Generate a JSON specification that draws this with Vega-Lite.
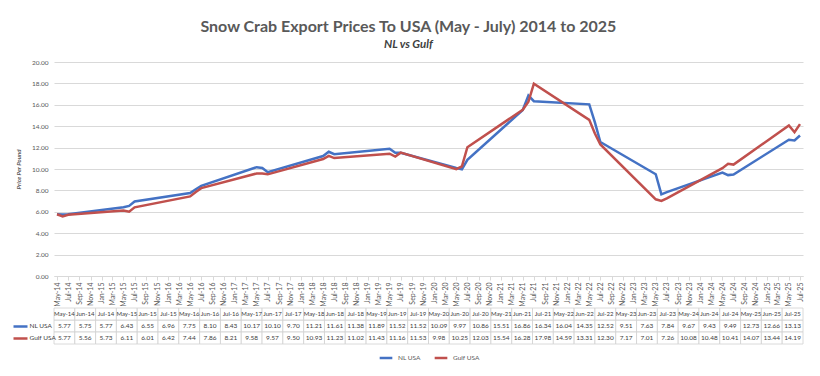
{
  "$schema": "https://vega.github.io/schema/vega-lite/v6.json",
  "padding": {"left": 11, "top": 18, "right": 17, "bottom": 4},
  "background": "white",
  "title": {
    "text": "Snow Crab Export Prices To USA (May - July) 2014 to 2025",
    "subtitle": "NL vs Gulf",
    "anchor": "middle",
    "font": "Lato",
    "fontSize": 16,
    "fontWeight": "bold",
    "color": "#595959",
    "subtitleFont": "Lato",
    "subtitleFontSize": 11.5,
    "subtitleFontStyle": "italic",
    "subtitleFontWeight": "bold",
    "subtitleColor": "#404040",
    "subtitlePadding": 4,
    "offset": 9
  },
  "datasets": {
    "d": [
      {"month": "2014-05-01", "label": "May-14", "NL USA": 5.77, "Gulf USA": 5.77},
      {"month": "2014-06-01", "label": "Jun-14", "NL USA": 5.75, "Gulf USA": 5.56},
      {"month": "2014-07-01", "label": "Jul-14", "NL USA": 5.77, "Gulf USA": 5.73},
      {"month": "2015-05-01", "label": "May-15", "NL USA": 6.43, "Gulf USA": 6.11},
      {"month": "2015-06-01", "label": "Jun-15", "NL USA": 6.55, "Gulf USA": 6.01},
      {"month": "2015-07-01", "label": "Jul-15", "NL USA": 6.96, "Gulf USA": 6.42},
      {"month": "2016-05-01", "label": "May-16", "NL USA": 7.75, "Gulf USA": 7.44},
      {"month": "2016-06-01", "label": "Jun-16", "NL USA": 8.10, "Gulf USA": 7.86},
      {"month": "2016-07-01", "label": "Jul-16", "NL USA": 8.43, "Gulf USA": 8.21},
      {"month": "2017-05-01", "label": "May-17", "NL USA": 10.17, "Gulf USA": 9.58},
      {"month": "2017-06-01", "label": "Jun-17", "NL USA": 10.10, "Gulf USA": 9.57},
      {"month": "2017-07-01", "label": "Jul-17", "NL USA": 9.70, "Gulf USA": 9.50},
      {"month": "2018-05-01", "label": "May-18", "NL USA": 11.21, "Gulf USA": 10.93},
      {"month": "2018-06-01", "label": "Jun-18", "NL USA": 11.61, "Gulf USA": 11.23},
      {"month": "2018-07-01", "label": "Jul-18", "NL USA": 11.38, "Gulf USA": 11.02},
      {"month": "2019-05-01", "label": "May-19", "NL USA": 11.89, "Gulf USA": 11.43},
      {"month": "2019-06-01", "label": "Jun-19", "NL USA": 11.52, "Gulf USA": 11.16},
      {"month": "2019-07-01", "label": "Jul-19", "NL USA": 11.52, "Gulf USA": 11.53},
      {"month": "2020-05-01", "label": "May-20", "NL USA": 10.09, "Gulf USA": 9.98},
      {"month": "2020-06-01", "label": "Jun-20", "NL USA": 9.97, "Gulf USA": 10.25},
      {"month": "2020-07-01", "label": "Jul-20", "NL USA": 10.86, "Gulf USA": 12.03},
      {"month": "2021-05-01", "label": "May-21", "NL USA": 15.51, "Gulf USA": 15.54},
      {"month": "2021-06-01", "label": "Jun-21", "NL USA": 16.86, "Gulf USA": 16.28},
      {"month": "2021-07-01", "label": "Jul-21", "NL USA": 16.34, "Gulf USA": 17.98},
      {"month": "2022-05-01", "label": "May-22", "NL USA": 16.04, "Gulf USA": 14.59},
      {"month": "2022-06-01", "label": "Jun-22", "NL USA": 14.35, "Gulf USA": 13.31},
      {"month": "2022-07-01", "label": "Jul-22", "NL USA": 12.52, "Gulf USA": 12.30},
      {"month": "2023-05-01", "label": "May-23", "NL USA": 9.51, "Gulf USA": 7.17},
      {"month": "2023-06-01", "label": "Jun-23", "NL USA": 7.63, "Gulf USA": 7.01},
      {"month": "2023-07-01", "label": "Jul-23", "NL USA": 7.84, "Gulf USA": 7.26},
      {"month": "2024-05-01", "label": "May-24", "NL USA": 9.67, "Gulf USA": 10.08},
      {"month": "2024-06-01", "label": "Jun-24", "NL USA": 9.43, "Gulf USA": 10.48},
      {"month": "2024-07-01", "label": "Jul-24", "NL USA": 9.49, "Gulf USA": 10.41},
      {"month": "2025-05-01", "label": "May-25", "NL USA": 12.73, "Gulf USA": 14.07},
      {"month": "2025-06-01", "label": "Jun-25", "NL USA": 12.66, "Gulf USA": 13.44},
      {"month": "2025-07-01", "label": "Jul-25", "NL USA": 13.13, "Gulf USA": 14.19}
    ]
  },
  "data": {"name": "d"},
  "spacing": 0,
  "vconcat": [
    {
      "width": 749,
      "height": 214,
      "transform": [{"fold": ["NL USA", "Gulf USA"], "as": ["series", "price"]}],
      "mark": {"type": "line", "strokeWidth": 2.5},
      "encoding": {
        "x": {
          "field": "month",
          "type": "temporal",
          "scale": {
            "type": "utc",
            "domain": [{"year": 2014, "month": 5, "date": 1, "utc": true}, {"year": 2025, "month": 7, "date": 1, "utc": true}],
            "padding": 3
          },
          "axis": {
            "title": null,
            "format": "%b-%y",
            "tickCount": {"interval": "month", "step": 2},
            "labelAngle": 270,
            "labelFontSize": 7,
            "labelColor": "#595959",
            "labelPadding": 2,
            "labelOverlap": false,
            "grid": false,
            "domainColor": "#d9d9d9",
            "tickColor": "#d9d9d9",
            "tickSize": 4
          }
        },
        "y": {
          "field": "price",
          "type": "quantitative",
          "scale": {"domain": [0, 20]},
          "axis": {
            "values": [0, 2, 4, 6, 8, 10, 12, 14, 16, 18, 20],
            "format": ".2f",
            "title": "Price Per Pound",
            "titleFontSize": 6,
            "titleFontStyle": "italic",
            "titleFontWeight": "bold",
            "titleColor": "#595959",
            "titlePadding": 10,
            "labelFontSize": 6.5,
            "labelColor": "#595959",
            "labelPadding": 6,
            "domain": false,
            "ticks": false,
            "gridColor": "#d9d9d9"
          }
        },
        "color": {
          "field": "series",
          "type": "nominal",
          "scale": {"domain": ["NL USA", "Gulf USA"], "range": ["#4472C4", "#C0504D"]},
          "legend": {
            "orient": "bottom",
            "direction": "horizontal",
            "title": null,
            "symbolType": "stroke",
            "symbolStrokeWidth": 2.5,
            "symbolSize": 160,
            "labelFontSize": 6.5,
            "labelColor": "#595959",
            "columnPadding": 8,
            "offset": 5
          }
        }
      }
    },
    {
      "width": 749,
      "height": 36,
      "layer": [
        {
          "transform": [{"fold": ["NL USA", "Gulf USA"], "as": ["series", "price"]}],
          "mark": {"type": "rect", "fill": "white", "stroke": "#d0d0d0", "strokeWidth": 0.8},
          "encoding": {
            "x": {"field": "label", "type": "ordinal", "sort": null, "scale": {"paddingInner": 0, "paddingOuter": 0}, "axis": null},
            "y": {
              "field": "series",
              "type": "ordinal",
              "scale": {"domain": ["hdr", "NL USA", "Gulf USA"], "paddingInner": 0, "paddingOuter": 0},
              "axis": {
                "title": null,
                "domain": false,
                "grid": false,
                "offset": 27,
                "tickSize": 14,
                "tickWidth": 2.5,
                "tickColor": {"condition": {"test": "datum.value === 'NL USA'", "value": "#4472C4"}, "value": "#C0504D"},
                "tickOpacity": {"condition": {"test": "datum.value === 'hdr'", "value": 0}, "value": 1},
                "labelAlign": "left",
                "labelPadding": -16,
                "labelExpr": "datum.value === 'hdr' ? '' : datum.value",
                "labelFontSize": 6.5,
                "labelColor": "#404040"
              }
            }
          }
        },
        {
          "mark": {"type": "rect", "fill": "white", "stroke": "#d0d0d0", "strokeWidth": 0.8},
          "encoding": {
            "x": {"field": "label", "type": "ordinal", "sort": null},
            "y": {"datum": "hdr", "type": "ordinal"}
          }
        },
        {
          "transform": [{"fold": ["NL USA", "Gulf USA"], "as": ["series", "price"]}],
          "mark": {"type": "text", "fontSize": 6.5, "color": "#404040"},
          "encoding": {
            "x": {"field": "label", "type": "ordinal", "sort": null},
            "y": {"field": "series", "type": "ordinal"},
            "text": {"field": "price", "type": "quantitative", "format": ".2f"}
          }
        },
        {
          "mark": {"type": "text", "fontSize": 6, "color": "#404040"},
          "encoding": {
            "x": {"field": "label", "type": "ordinal", "sort": null},
            "y": {"datum": "hdr", "type": "ordinal"},
            "text": {"field": "label", "type": "nominal"}
          }
        }
      ]
    }
  ],
  "config": {
    "font": "Lato",
    "view": {"stroke": null},
    "legend": {"layout": {"bottom": {"anchor": "middle"}}}
  }
}
